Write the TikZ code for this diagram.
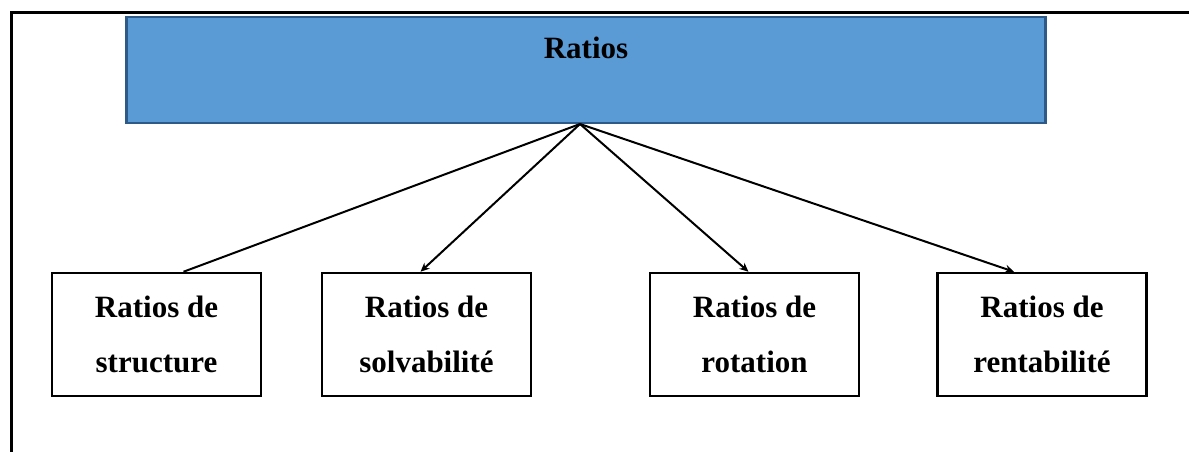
\documentclass[tikz,border=0pt]{standalone}
\usepackage{fontspec}
\setmainfont{Liberation Serif}
\usetikzlibrary{positioning,arrows.meta,calc}
\definecolor{ratiofill}{HTML}{5B9BD5}
\definecolor{ratioline}{HTML}{2E5A8A}
\tikzset{
    topbox/.style={draw=ratioline, line width=2.5pt, fill=ratiofill, minimum width=919pt, minimum height=106pt, inner sep=0pt},
    ratiobox/.style={draw, line width=2.5pt, minimum width=209pt, minimum height=123pt, inner sep=0pt, align=center, font=\bfseries\fontsize{31}{55}\selectfont},
    link/.style={line width=2pt},
    linkarrow/.style={line width=2pt, -{Stealth[length=9pt,width=8pt]}}
}
\begin{document}
\begin{tikzpicture}[x=1pt, y=-1pt]
        \useasboundingbox (0,0) rectangle (1189,452);

        % Cadre
        \draw[line width=3pt] (11,452) -- (11,13) -- (1189,13);

        % Ratios
        \node[topbox] (ratios) at (586,70) {};
        \node[font=\bfseries\fontsize{31}{37}\selectfont] (ratiostitle) at (586,48) {Ratios};
        \coordinate (apex) at (580,124);

        % Types de ratios
        \node[ratiobox] (structure) at (156.5,334.5) {Ratios de\\structure};
        \node[ratiobox] (solvabilite) at (426.5,334.5) {Ratios de\\solvabilit\'e};
        \node[ratiobox] (rotation) at (754.5,334.5) {Ratios de\\rotation};
        \node[ratiobox] (rentabilite) at (1042,334.5) {Ratios de\\rentabilit\'e};

        \draw[link] (apex) -- ($(structure.north)+(27,0)$);
        \draw[linkarrow] (apex) -- ($(solvabilite.north)+(-6,0)$);
        \draw[linkarrow] (apex) -- ($(rotation.north)+(-6,0)$);
        \draw[linkarrow] (apex) -- ($(rentabilite.north)+(-28,0)$);

    \end{tikzpicture}
\end{document}
